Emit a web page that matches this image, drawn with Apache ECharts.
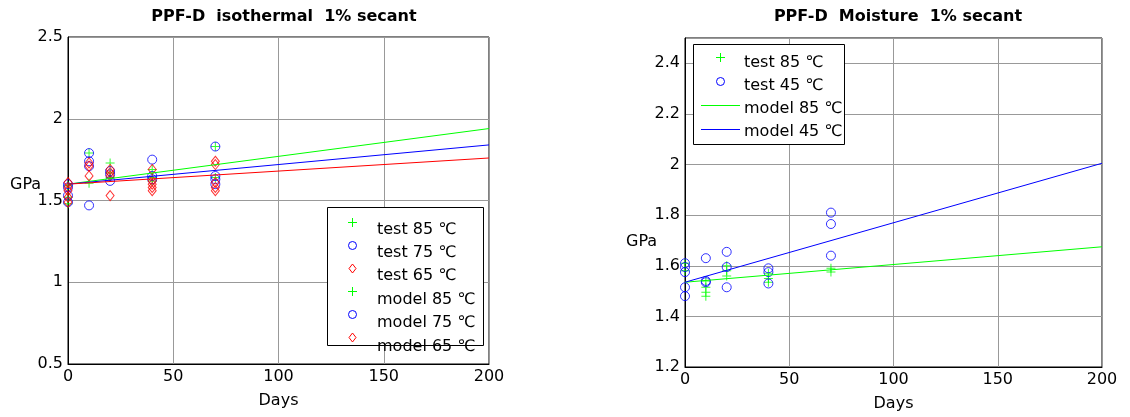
<!DOCTYPE html>
<html>
<head>
<meta charset="utf-8">
<script src="https://cdn.jsdelivr.net/npm/echarts@6/dist/echarts.min.js"></script>
<style>
  html, body { margin: 0; padding: 0; background: #fff; }
  #chart { width: 1130px; height: 417px; }
</style>
</head>
<body>
<div id="chart"></div>
<script>
// Secant modulus (GPa) versus ageing time (days), PPF-D material
const dayTicks = [0, 50, 100, 150, 200];
const isoGpaTicks = [0.5, 1, 1.5, 2, 2.5];
const moistGpaTicks = [1.2, 1.4, 1.6, 1.8, 2, 2.2, 2.4];

// isothermal ageing: measured points [day, GPa]
const isoTest85 = [[0,1.59],[0,1.52],[0,1.48],[10,1.79],[10,1.605],[20,1.73],[20,1.67],[20,1.64],
  [40,1.69],[40,1.64],[40,1.62],[70,1.83],[70,1.64]];
const isoTest75 = [[0,1.60],[0,1.58],[0,1.53],[0,1.49],[10,1.79],[10,1.74],[10,1.71],[10,1.47],
  [20,1.68],[20,1.66],[20,1.62],[40,1.75],[40,1.65],[40,1.63],[70,1.83],[70,1.65],[70,1.63],[70,1.60]];
const isoTest65 = [[0,1.61],[0,1.58],[0,1.56],[0,1.52],[0,1.49],[10,1.73],[10,1.71],[10,1.65],
  [20,1.69],[20,1.67],[20,1.65],[20,1.53],[40,1.69],[40,1.62],[40,1.60],[40,1.58],[40,1.56],
  [70,1.74],[70,1.72],[70,1.61],[70,1.58],[70,1.56]];

// model end points at day 0 and day 200
const modelDays = [0, 200];
const isoModel85 = [1.60, 1.94];
const isoModel75 = [1.60, 1.84];
const isoModel65 = [1.60, 1.76];

// moisture ageing: measured points [day, GPa]
const moistTest85 = [[0,1.61],[0,1.58],[10,1.54],[10,1.515],[10,1.495],[10,1.48],[20,1.60],[20,1.58],
  [20,1.56],[40,1.57],[40,1.55],[40,1.535],[70,1.59],[70,1.575]];
const moistTest45 = [[0,1.61],[0,1.595],[0,1.575],[0,1.515],[0,1.48],[10,1.63],[10,1.54],[10,1.535],
  [20,1.655],[20,1.595],[20,1.515],[40,1.59],[40,1.575],[40,1.53],[70,1.81],[70,1.765],[70,1.64]];
const moistModel85 = [1.535, 1.675];
const moistModel45 = [1.535, 2.005];

// legend entries: caption and key glyph
const isoLegendLabels = ['test 85 ℃', 'test 75 ℃', 'test 65 ℃', 'model 85 ℃', 'model 75 ℃', 'model 65 ℃'];
const isoLegendKeys = ['plus', 'circle', 'diamond', 'plus', 'circle', 'diamond'];
const moistLegendLabels = ['test 85 ℃', 'test 45 ℃', 'model 85 ℃', 'model 45 ℃'];
const moistLegendKeys = ['plus', 'circle', 'lineG', 'lineB'];

const FONT = 'DejaVu Sans';
const GREEN = '#00ff00', BLUE = '#0000ff', RED = '#ff0000';
const plusPath = 'path://M4,0H5V9H4Z M0,4H9V5H0Z';
const diamondPath = 'path://M4,0L8,5L4,10L0,5Z';

const pairs = (xs, ys) => xs.map((x, i) => [x, ys[i]]);

const plusStyle = () => ({ symbol: plusPath, symbolSize: 9, itemStyle: { color: GREEN, borderWidth: 0 } });
const circleStyle = () => ({ symbol: 'circle', symbolSize: 9, itemStyle: { color: 'rgba(0,0,0,0)', borderColor: BLUE, borderWidth: 1 } });
const diamondStyle = () => ({ symbol: diamondPath, symbolSize: [8, 10], itemStyle: { color: 'rgba(0,0,0,0)', borderColor: RED, borderWidth: 1 } });

function scatter(name, data, style, idx) {
  return Object.assign({ type: 'scatter', name, data, xAxisIndex: idx, yAxisIndex: idx, silent: true }, style());
}
function modelLine(name, values, color, idx) {
  return {
    type: 'line', name, data: pairs(modelDays, values), xAxisIndex: idx, yAxisIndex: idx,
    symbol: 'none', showSymbol: false, silent: true,
    lineStyle: { color, width: 1 }, itemStyle: { color }
  };
}

const tickText = v => String(Math.round(v * 100) / 100);

function xAxis(idx) {
  return {
    type: 'value', gridIndex: idx, min: dayTicks[0], max: dayTicks[dayTicks.length - 1],
    interval: dayTicks[1] - dayTicks[0],
    name: 'Days', nameLocation: 'middle', nameGap: 29,
    nameTextStyle: { fontFamily: FONT, fontSize: 16, color: '#000' },
    axisLine: { show: true, onZero: false, lineStyle: { color: '#000', width: 1 } },
    axisTick: { show: false },
    axisLabel: { fontFamily: FONT, fontSize: 16, color: '#000', margin: 5, formatter: tickText },
    splitLine: { show: true, lineStyle: { color: '#999', width: 1 } }
  };
}
function yAxis(idx, ticks, max, hideMax) {
  return {
    type: 'value', gridIndex: idx, min: ticks[0], max, interval: ticks[1] - ticks[0],
    axisLine: { show: true, onZero: false, lineStyle: { color: '#000', width: 1 } },
    axisTick: { show: false },
    axisLabel: { fontFamily: FONT, fontSize: 16, color: '#000', margin: 5, showMaxLabel: !hideMax, formatter: tickText },
    splitLine: { show: true, lineStyle: { color: '#999', width: 1 } }
  };
}

// key glyph drawn at (cx, cy)
function keyGlyph(kind, cx, cy) {
  const z = 5;
  if (kind === 'plus') {
    return { type: 'group', z, children: [
      { type: 'line', z, shape: { x1: cx - 4, y1: cy + 0.5, x2: cx + 5, y2: cy + 0.5 }, style: { stroke: GREEN, lineWidth: 1 } },
      { type: 'line', z, shape: { x1: cx + 0.5, y1: cy - 4, x2: cx + 0.5, y2: cy + 5 }, style: { stroke: GREEN, lineWidth: 1 } }
    ] };
  }
  if (kind === 'circle') {
    return { type: 'circle', z, shape: { cx: cx + 0.5, cy: cy + 0.5, r: 4 }, style: { fill: 'none', stroke: BLUE, lineWidth: 1 } };
  }
  if (kind === 'diamond') {
    return { type: 'polygon', z, shape: { points: [[cx + 0.5, cy - 4], [cx + 4, cy + 0.5], [cx + 0.5, cy + 5], [cx - 3, cy + 0.5]] },
      style: { fill: 'none', stroke: RED, lineWidth: 1 } };
  }
  const color = kind === 'lineG' ? GREEN : BLUE;
  return { type: 'line', z, shape: { x1: cx - 19, y1: cy + 0.5, x2: cx + 20, y2: cy + 0.5 }, style: { stroke: color, lineWidth: 1 } };
}

function legendBox(box, labels, keys, keyX, textX, keyY0, textY0, keyStep, textStep) {
  const items = [{ type: 'rect', z: 4, shape: { x: box[0] + 0.5, y: box[1] + 0.5, width: box[2], height: box[3] },
    style: { fill: '#fff', stroke: '#000', lineWidth: 1 } }];
  labels.forEach((label, i) => {
    items.push(keyGlyph(keys[i], keyX, Math.round(keyY0 + keyStep * i)));
    items.push({ type: 'text', z: 5, x: textX, y: textY0 + textStep * i,
      style: { text: label, font: '16px "DejaVu Sans"', fill: '#000', verticalAlign: 'middle', textVerticalAlign: 'middle' } });
  });
  return items;
}

const option = {
  animation: false,
  backgroundColor: '#fff',
  title: [
    { text: 'PPF-D  isothermal  1% secant', left: 284, top: 9, textAlign: 'center', padding: 0,
      textStyle: { fontFamily: FONT, fontSize: 16, fontWeight: 'bold', color: '#000' } },
    { text: 'PPF-D  Moisture  1% secant', left: 898, top: 9, textAlign: 'center', padding: 0,
      textStyle: { fontFamily: FONT, fontSize: 16, fontWeight: 'bold', color: '#000' } }
  ],
  grid: [
    { left: 68, top: 37, width: 421, height: 327, show: true, borderColor: '#000', borderWidth: 1, backgroundColor: 'transparent' },
    { left: 685, top: 38, width: 417, height: 329, show: true, borderColor: '#000', borderWidth: 1, backgroundColor: 'transparent' }
  ],
  xAxis: [xAxis(0), xAxis(1)],
  yAxis: [yAxis(0, isoGpaTicks, 2.5, false), yAxis(1, moistGpaTicks, 2.5, true)],
  graphic: [
    ...legendBox([327, 207, 156, 138], isoLegendLabels, isoLegendKeys, 352, 377, 222, 229.5, 23, 23.4),
    ...legendBox([693, 44, 151, 100], moistLegendLabels, moistLegendKeys, 720, 744, 57, 62.5, 24, 23),
    { type: 'text', z: 5, x: 10, y: 185,
      style: { text: 'GPa', font: '16px "DejaVu Sans"', fill: '#000', textVerticalAlign: 'middle', verticalAlign: 'middle' } },
    { type: 'text', z: 5, x: 626, y: 242,
      style: { text: 'GPa', font: '16px "DejaVu Sans"', fill: '#000', textVerticalAlign: 'middle', verticalAlign: 'middle' } }
  ],
  series: [
    scatter('test 85 ℃', isoTest85, plusStyle, 0),
    scatter('test 75 ℃', isoTest75, circleStyle, 0),
    scatter('test 65 ℃', isoTest65, diamondStyle, 0),
    modelLine('model 85 ℃', isoModel85, GREEN, 0),
    modelLine('model 75 ℃', isoModel75, BLUE, 0),
    modelLine('model 65 ℃', isoModel65, RED, 0),
    scatter('test 85 ℃', moistTest85, plusStyle, 1),
    scatter('test 45 ℃', moistTest45, circleStyle, 1),
    modelLine('model 85 ℃', moistModel85, GREEN, 1),
    modelLine('model 45 ℃', moistModel45, BLUE, 1)
  ]
};

const chart = echarts.init(document.getElementById('chart'), null, { renderer: 'canvas' });
chart.setOption(option);
</script>
</body>
</html>
